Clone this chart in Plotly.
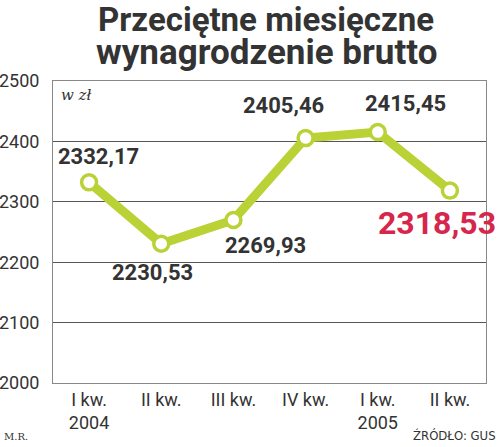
import plotly.graph_objects as go

categories = ["I kw.<br>2004", "II kw.", "III kw.", "IV kw.", "I kw.<br>2005", "II kw."]
values = [2332.17, 2230.53, 2269.93, 2405.46, 2415.45, 2318.53]
labels = ["2332,17", "2230,53", "2269,93", "2405,46", "2415,45", "2318,53"]
y_ticks = [2000, 2100, 2200, 2300, 2400, 2500]

x_idx = list(range(len(categories)))
# label offsets in px (style, not data)
offsets = [(9, 26), (-9, -29), (32, -26), (-22, 33), (28, 29), (-13, -32)]

fig = go.Figure()
fig.add_trace(go.Scatter(
    x=x_idx, y=values, mode="lines+markers",
    line=dict(color="#bad236", width=9),
    marker=dict(size=15, color="white", line=dict(color="#bad236", width=3.5)),
    hoverinfo="skip", showlegend=False,
))

for i, (v, lab) in enumerate(zip(values, labels)):
    last = i == len(values) - 1
    fig.add_annotation(
        x=i, y=v, text=lab, showarrow=False,
        xshift=offsets[i][0], yshift=offsets[i][1],
        font=dict(family="Roboto", size=32 if last else 22,
                  color="#d6264c" if last else "#333333", weight="bold"),
    )

fig.add_annotation(xref="paper", yref="paper", x=0.015, y=0.99, xanchor="left", yanchor="top",
                   text="<i>w zł</i>", showarrow=False,
                   font=dict(family="DejaVu Serif", size=15, color="#333333"))
fig.add_annotation(xref="paper", yref="paper", x=-0.117, y=-0.178, xanchor="left", yanchor="middle",
                   text="M.R.", showarrow=False,
                   font=dict(family="DejaVu Serif", size=10, color="#333333"))
fig.add_annotation(xref="paper", yref="paper", x=1.028, y=-0.175, xanchor="right", yanchor="middle",
                   text="ŹRÓDŁO: GUS", showarrow=False,
                   font=dict(family="DejaVu Sans Condensed", size=13, color="#333333"))

# title as two lines
fig.add_annotation(xref="paper", yref="paper", x=0.492, y=1.0 + 61 / 302, xanchor="center", yanchor="middle",
                   text="<b>Przeciętne miesięczne</b>", showarrow=False,
                   font=dict(family="Roboto", size=33, color="#333333"))
fig.add_annotation(xref="paper", yref="paper", x=0.492, y=1.0 + 28 / 302, xanchor="center", yanchor="middle",
                   text="<b>wynagrodzenie brutto</b>", showarrow=False,
                   font=dict(family="Roboto", size=35, color="#333333"))

fig.update_layout(
    width=500, height=447,
    margin=dict(l=53, r=14, t=81, b=64, autoexpand=False),
    paper_bgcolor="white", plot_bgcolor="white",
    font=dict(family="Roboto", color="#333333"),
    xaxis=dict(
        range=[-0.5, 5.5], tickmode="array", tickvals=x_idx, ticktext=categories,
        showgrid=False, zeroline=False, showline=True, linecolor="#888888", linewidth=1,
        mirror=True, ticks="", tickfont=dict(size=18, color="#333333"), automargin=False,
    ),
    yaxis=dict(
        range=[2000, 2500], tickmode="array", tickvals=y_ticks,
        showgrid=True, gridcolor="#555555", gridwidth=1, zeroline=False,
        showline=True, linecolor="#888888", linewidth=1, mirror=True,
        ticks="outside", ticklen=9, tickcolor="white",
        tickfont=dict(size=18, color="#333333"), automargin=False,
    ),
)
fig.write_html("out.html", config={"displayModeBar": False},
               post_script="document.body.style.margin='0';")
